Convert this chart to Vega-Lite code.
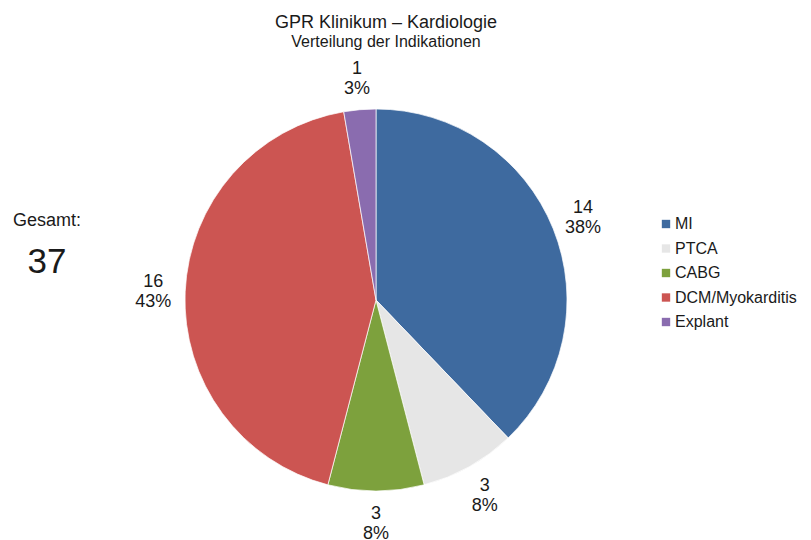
{
  "$schema": "https://vega.github.io/schema/vega-lite/v6.json",
  "width": 382,
  "height": 382,
  "autosize": "none",
  "padding": {"left": 185, "top": 109, "right": 244, "bottom": 49},
  "background": "white",
  "title": {
    "text": "GPR Klinikum – Kardiologie",
    "subtitle": "Verteilung der Indikationen",
    "frame": "group",
    "anchor": "middle",
    "dx": 10,
    "offset": 10,
    "font": "Liberation Sans",
    "fontSize": 18,
    "fontWeight": "normal",
    "color": "#1a1a1a",
    "subtitleFont": "Liberation Sans",
    "subtitleFontSize": 16,
    "subtitleColor": "#1a1a1a",
    "subtitlePadding": 2
  },
  "data": {
    "values": [
      {"indication": "MI", "count": 14, "label": "14\n38%", "idx": 1},
      {"indication": "PTCA", "count": 3, "label": "3\n8%", "idx": 2},
      {"indication": "CABG", "count": 3, "label": "3\n8%", "idx": 3},
      {"indication": "DCM/Myokarditis", "count": 16, "label": "16\n43%", "idx": 4},
      {"indication": "Explant", "count": 1, "label": "1\n3%", "idx": 5}
    ]
  },
  "layer": [
    {
      "mark": {"type": "arc", "outerRadius": 191, "stroke": "#ffffff", "strokeWidth": 1, "strokeOpacity": 0.7},
      "encoding": {
        "theta": {"field": "count", "type": "quantitative", "stack": true},
        "order": {"field": "idx", "type": "quantitative"},
        "color": {
          "field": "indication",
          "type": "nominal",
          "scale": {
            "domain": ["MI", "PTCA", "CABG", "DCM/Myokarditis", "Explant"],
            "range": ["#3e6a9f", "#e6e6e6", "#7da13d", "#cc5552", "#8a6caf"]
          },
          "legend": {
            "orient": "none",
            "legendX": 473,
            "legendY": 107,
            "title": null,
            "symbolType": "square",
            "symbolSize": 70,
            "symbolStrokeWidth": 0,
            "labelFont": "Liberation Sans",
            "labelFontSize": 16,
            "labelColor": "#1a1a1a",
            "rowPadding": 8.5,
            "labelOffset": 1
          }
        }
      }
    },
    {
      "mark": {"type": "text", "radius": 223, "font": "Liberation Sans", "fontSize": 18, "lineBreak": "\n", "lineHeight": 20, "align": "center", "baseline": "middle", "color": "#1a1a1a", "dy": -9},
      "encoding": {
        "theta": {"field": "count", "type": "quantitative", "stack": true},
        "order": {"field": "idx", "type": "quantitative"},
        "text": {"field": "label", "type": "nominal"}
      }
    },
    {
      "data": {"values": [{"caption": "Gesamt:"}]},
      "mark": {"type": "text", "font": "Liberation Sans", "fontSize": 18, "align": "center", "baseline": "middle", "color": "#1a1a1a", "dx": -329, "dy": -79},
      "encoding": {"text": {"field": "caption", "type": "nominal"}}
    },
    {
      "data": {"values": [{"total": 37}]},
      "mark": {"type": "text", "font": "Liberation Sans", "fontSize": 35, "align": "center", "baseline": "middle", "color": "#1a1a1a", "dx": -329, "dy": -38},
      "encoding": {"text": {"field": "total", "type": "quantitative"}}
    }
  ]
}
